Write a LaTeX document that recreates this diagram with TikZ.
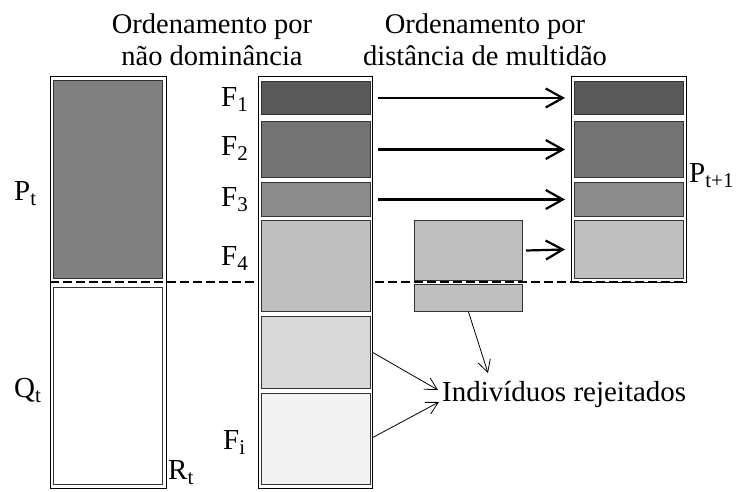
\documentclass[tikz,border=0pt]{standalone}
\usepackage{fontspec}
\setmainfont{Liberation Serif}
\usetikzlibrary{arrows.meta,calc}
\newcommand\lsub[1]{\raisebox{-0.2em}{\fontsize{21}{21}\selectfont #1}}
\begin{document}
\begin{tikzpicture}[x=1pt,y=-1pt,
 outer/.style={draw=black, line width=0.8pt, fill=white, inner sep=0pt, anchor=north west},
 blk/.style={draw=black!80, line width=1pt, inner sep=0pt, anchor=north west},
 lbl/.style={inner sep=0pt, anchor=base west, font=\fontsize{29}{34}\selectfont},
 ttl/.style={inner sep=0pt, anchor=base, font=\fontsize{28.5}{34}\selectfont},
 bigarrow/.style={line width=2.2pt, -{Straight Barb[length=17pt,width=19pt,line width=2.2pt]}},
 thinarrow/.style={line width=0.8pt, -{Straight Barb[length=12pt,width=13pt,line width=0.8pt]}},
 divider/.style={line width=2.4pt, dash pattern=on 9pt off 4pt}]
\useasboundingbox (0,0) rectangle (748,491);

% titles
\node[ttl] (t1a) at (212,33) {Ordenamento por};
\node[ttl] (t1b) at (212,65) {não dominância};
\node[ttl] (t2a) at (485,33) {Ordenamento por};
\node[ttl] (t2b) at (485,65) {distância de multidão};

% left column R_t
\node[outer, minimum width=116, minimum height=412] (lcol) at (50,76) {};
\node[blk, fill=black!50, minimum width=109, minimum height=198] (pt) at (53,80) {};
\node[blk, fill=white, minimum width=109, minimum height=197] (qt) at (53,287) {};

% crowding distance box
\node[blk, fill=black!25, minimum width=108, minimum height=60] (cbt) at (414,220) {};
\node[blk, fill=black!25, minimum width=108, minimum height=27] (cbb) at (414,284) {};

% right column P_{t+1}
\node[outer, minimum width=115, minimum height=206] (rcol) at (571,76) {};
\node[blk, fill=black!65, minimum width=109, minimum height=33] (r1) at (574,81) {};
\node[blk, fill=black!55, minimum width=109, minimum height=56] (r2) at (574,121) {};
\node[blk, fill=black!45, minimum width=109, minimum height=34] (r3) at (574,182) {};
\node[blk, fill=black!25, minimum width=109, minimum height=58] (r4) at (574,220) {};

% divider
\draw[divider] (50,282) -- (687,282);
\draw[white, line width=1pt, dash pattern=on 3pt off 3pt] ($(cbt.south west)+(1,2)$) -- ($(cbt.south east)+(-1,2)$);

% middle column
\node[outer, minimum width=114, minimum height=412] (mcol) at (258,76) {};
\node[blk, fill=black!65, minimum width=109, minimum height=33] (f1) at (261,81) {};
\node[blk, fill=black!55, minimum width=109, minimum height=56] (f2) at (261,121) {};
\node[blk, fill=black!45, minimum width=109, minimum height=34] (f3) at (261,182) {};
\node[blk, fill=black!25, minimum width=109, minimum height=91] (f4) at (261,220) {};
\node[blk, fill=black!15, minimum width=109, minimum height=72] (f5) at (261,316) {};
\node[blk, fill=black!5, minimum width=109, minimum height=91] (fi) at (261,393) {};

% labels
\node[lbl] (lf1) at (221,106) {F\lsub{1}};
\node[lbl] (lf2) at (221,155) {F\lsub{2}};
\node[lbl] (lf3) at (221,206) {F\lsub{3}};
\node[lbl] (lf4) at (221,265) {F\lsub{4}};
\node[lbl] (lfi) at (223,449) {F\lsub{i}};
\node[lbl] (lpt) at (14,200) {P\lsub{t}};
\node[lbl] (lqt) at (14,397) {Q\lsub{t}};
\node[lbl] (lrt) at (168,479) {R\lsub{t}};
\node[lbl] (lpt1) at (689,182) {P\lsub{t+1}};
\node[lbl] (rej) at (442,401) {Indivíduos rejeitados};

% arrows
\draw[bigarrow] ($(f1.east -| mcol.east)+(5,0)$) -- ($(r1.west -| rcol.west)+(-6,0)$);
\draw[bigarrow] ($(f2.east -| mcol.east)+(5,0)$) -- ($(r2.west -| rcol.west)+(-6,0)$);
\draw[bigarrow] ($(f3.east -| mcol.east)+(5,0)$) -- ($(r3.west -| rcol.west)+(-6,0)$);
\draw[bigarrow] ($(cbt.east)+(3,0)$) -- ($(r4.west -| rcol.west)+(-6,0)$);

\draw[thinarrow] (f5.east -| mcol.east) -- ($(rej.base west)+(-4,-11)$);
\draw[thinarrow] ($(fi.east -| mcol.east)+(0,-1.5)$) -- ($(rej.base west)+(-3,1)$);
\draw[thinarrow] (cbb.south) -- ($(rej.base west)+(46,-28)$);
\end{tikzpicture}
\end{document}
